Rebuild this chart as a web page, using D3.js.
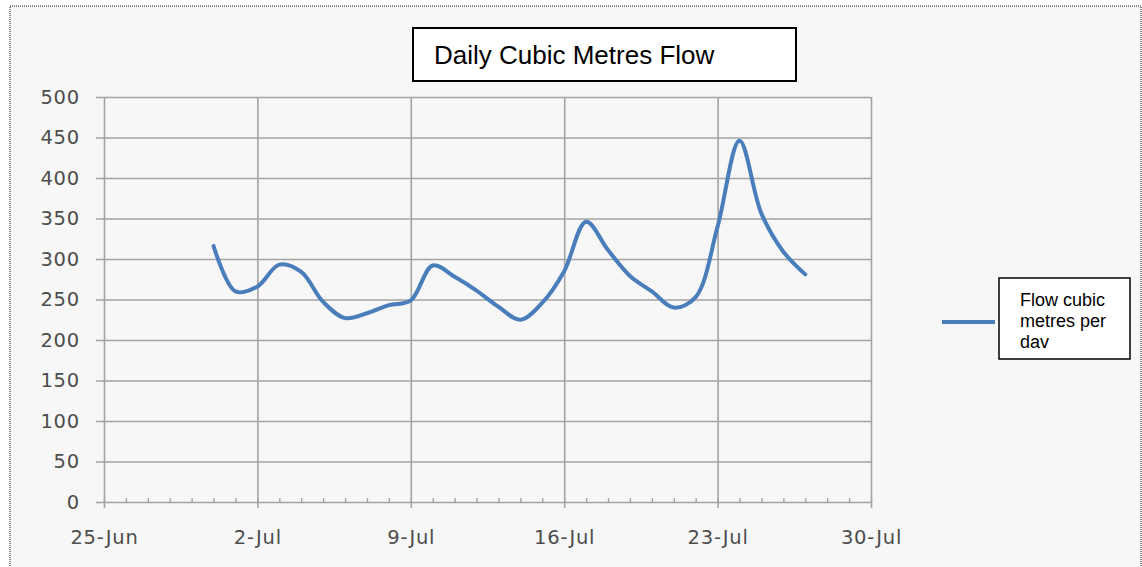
<!DOCTYPE html>
<html>
<head>
<meta charset="utf-8">
<script src="https://cdn.jsdelivr.net/npm/d3@7"></script>
<style>
  body { margin: 0; background: #fff; }
  svg { display: block; }
</style>
</head>
<body>
<div id="chart"></div>
<script>
// daily flow readings
const days = ['2013-06-30', '2013-07-01', '2013-07-02', '2013-07-03', '2013-07-04', '2013-07-05', '2013-07-06',
    '2013-07-07', '2013-07-08', '2013-07-09', '2013-07-10', '2013-07-11', '2013-07-12', '2013-07-13',
    '2013-07-14', '2013-07-15', '2013-07-16', '2013-07-17', '2013-07-18', '2013-07-19', '2013-07-20',
    '2013-07-21', '2013-07-22', '2013-07-23', '2013-07-24', '2013-07-25', '2013-07-26', '2013-07-27'];
const flow = [316, 260, 266, 293, 284, 247, 227,
    233, 243, 249, 292, 278, 261, 241,
    225, 246, 285, 346, 311, 279, 260,
    240, 253, 340, 446, 356, 309, 281];
const xTickDays = ['2013-06-25', '2013-07-02', '2013-07-09', '2013-07-16', '2013-07-23', '2013-07-30'];
const yTicks = [0, 50, 100, 150, 200, 250, 300, 350, 400, 450, 500];
const chartTitle = 'Daily Cubic Metres Flow';
const legendLines = ['Flow cubic', 'metres per', 'dav'];

const W = 1142, H = 567;
const plot = { left: 104, right: 871, top: 97, bottom: 502 };
const parse = d3.utcParse('%Y-%m-%d');
const data = days.map((d, i) => ({ date: parse(d), value: flow[i] }));
const xTicks = xTickDays.map(parse);

const svg = d3.select('#chart')
    .append('svg')
    .attr('width', W)
    .attr('height', H);

// frame
svg.append('rect')
    .attr('x', 10)
    .attr('y', 6)
    .attr('width', W - 11)
    .attr('height', H)
    .attr('fill', '#f7f7f7')
    .attr('stroke', '#888')
    .attr('stroke-width', 2)
    .attr('stroke-dasharray', '1,1');

const x = d3.scaleUtc()
    .domain([xTicks[0], xTicks[xTicks.length - 1]])
    .range([plot.left, plot.right]);
const y = d3.scaleLinear()
    .domain([0, 500])
    .range([plot.bottom, plot.top]);

const plotW = plot.right - plot.left;
const plotH = plot.bottom - plot.top;

const styleLabels = g => g.selectAll('text')
    .attr('fill', '#4d4d4d')
    .style('font-family', 'DejaVu Sans')
    .style('font-size', '19.5px')
    .style('letter-spacing', '0.8px');

// horizontal grid + y labels
svg.append('g')
    .attr('transform', `translate(${plot.right},0)`)
    .call(d3.axisLeft(y).tickValues(yTicks).tickSize(plotW + 8).tickPadding(16))
    .call(g => g.select('.domain').remove())
    .call(g => g.selectAll('line').attr('stroke', '#a3a3a3').attr('stroke-width', 1.6))
    .call(styleLabels);

// vertical grid + x labels
svg.append('g')
    .attr('transform', `translate(0,${plot.top})`)
    .call(d3.axisBottom(x).tickValues(xTicks).tickSize(plotH + 6).tickPadding(22)
        .tickFormat(d3.utcFormat('%-d-%b')))
    .call(g => g.select('.domain').remove())
    .call(g => g.selectAll('line').attr('stroke', '#a3a3a3').attr('stroke-width', 1.6))
    .call(styleLabels);

// small daily ticks on the x axis
svg.append('g')
    .attr('transform', `translate(0,${plot.bottom})`)
    .call(d3.axisTop(x).ticks(d3.utcDay.every(1)).tickSize(4).tickFormat(''))
    .call(g => g.select('.domain').remove())
    .call(g => g.selectAll('line').attr('stroke', '#a3a3a3').attr('stroke-width', 1.4));

// the flow line
const line = d3.line()
    .x(d => x(d.date))
    .y(d => y(d.value))
    .curve(d3.curveCatmullRom.alpha(0.5));

svg.append('path')
    .datum(data)
    .attr('fill', 'none')
    .attr('stroke', '#4a7ebb')
    .attr('stroke-width', 4)
    .attr('stroke-linejoin', 'round')
    .attr('stroke-linecap', 'round')
    .attr('d', line);

// title box
svg.append('rect')
    .attr('x', 413)
    .attr('y', 28)
    .attr('width', 383)
    .attr('height', 53)
    .attr('fill', '#fff')
    .attr('stroke', '#000')
    .attr('stroke-width', 2);
svg.append('text')
    .attr('x', 434)
    .attr('y', 64)
    .attr('fill', '#000')
    .style('font-family', 'Liberation Sans, Arial, sans-serif')
    .style('font-size', '26px')
    .text(chartTitle);

// legend
svg.append('line')
    .attr('x1', 942)
    .attr('x2', 995)
    .attr('y1', 322)
    .attr('y2', 322)
    .attr('stroke', '#4a7ebb')
    .attr('stroke-width', 4);
svg.append('rect')
    .attr('x', 999)
    .attr('y', 278)
    .attr('width', 131)
    .attr('height', 81)
    .attr('fill', '#fff')
    .attr('stroke', '#000')
    .attr('stroke-width', 1.5);
svg.append('text')
    .attr('fill', '#000')
    .style('font-family', 'Liberation Sans, Arial, sans-serif')
    .style('font-size', '18px')
    .selectAll('tspan')
    .data(legendLines)
    .join('tspan')
    .attr('x', 1020)
    .attr('y', (d, i) => 306 + i * 21)
    .text(d => d);
</script>
</body>
</html>
